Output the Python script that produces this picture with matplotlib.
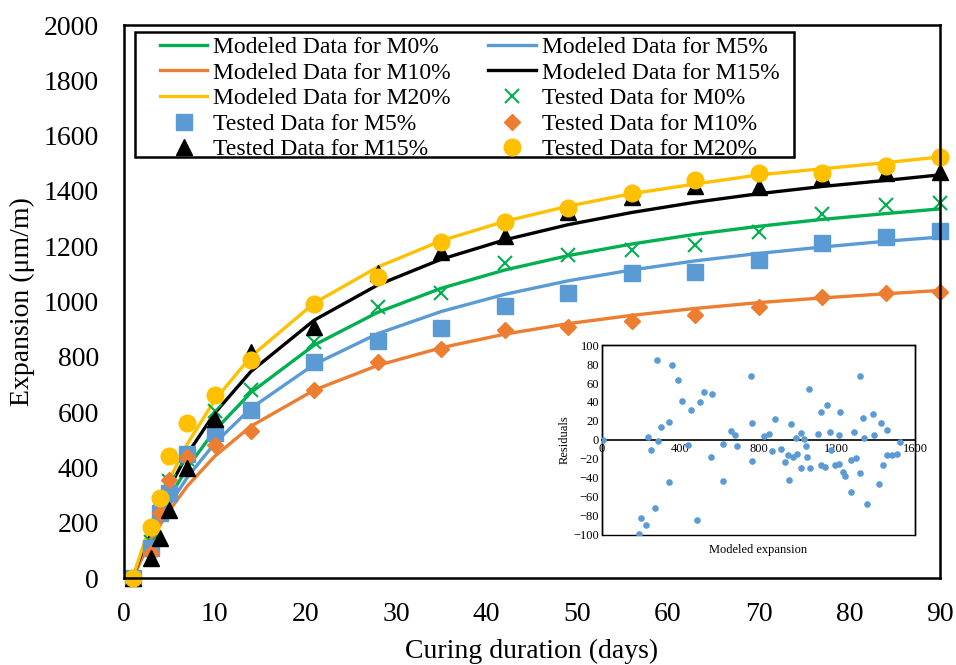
import matplotlib
matplotlib.use("Agg")
import matplotlib.pyplot as plt
from matplotlib.patches import Rectangle

plt.rcParams['font.family'] = ['Liberation Serif', 'DejaVu Serif']

# tested data (days of curing)
test_days = [1, 3, 4, 5, 7, 10, 14, 21, 28, 35, 42, 49, 56, 63, 70, 77, 84, 90]
test_m0 = [0, 130, 240, 350, 430, 605, 680, 853, 980, 1030, 1139, 1168, 1186, 1206, 1250, 1316, 1349, 1356]
test_m5 = [0, 108, 235, 307, 448, 524, 608, 781, 857, 904, 984, 1031, 1103, 1107, 1150, 1212, 1233, 1255]
test_m10 = [0, 90, 235, 354, 438, 481, 530, 680, 781, 828, 897, 908, 930, 951, 980, 1016, 1031, 1036]
test_m15 = [0, 72, 145, 245, 398, 575, 817, 908, 1103, 1180, 1238, 1325, 1378, 1418, 1414, 1452, 1466, 1470]
test_m20 = [0, 184, 289, 441, 561, 662, 788, 991, 1089, 1215, 1288, 1338, 1392, 1439, 1465, 1465, 1490, 1523]

# modeled data
model_days = [1, 1.5, 2, 3, 4, 5, 7, 10, 14, 21, 28, 35, 42, 49, 56, 63, 70, 77, 84, 90]
model_m0 = [0, 43, 84, 160, 228, 291, 400, 533, 671, 843, 961, 1048, 1114, 1166, 1208, 1243, 1272, 1297, 1318, 1335]
model_m5 = [0, 39, 76, 145, 208, 265, 365, 487, 614, 773, 884, 964, 1026, 1075, 1114, 1147, 1174, 1197, 1218, 1233]
model_m10 = [0, 37, 72, 136, 193, 244, 333, 440, 549, 680, 769, 833, 882, 920, 950, 975, 996, 1013, 1028, 1040]
model_m15 = [0, 49, 95, 181, 260, 327, 449, 596, 747, 933, 1060, 1153, 1223, 1278, 1322, 1359, 1390, 1416, 1438, 1458]
model_m20 = [0, 54, 105, 198, 281, 356, 486, 643, 801, 995, 1125, 1220, 1290, 1345, 1390, 1425, 1458, 1480, 1502, 1523]

# residuals inset
res_x = [5, 187, 199, 226, 235, 252, 272, 279, 288, 303, 342, 342, 356, 388, 408, 441, 454, 485, 502, 523,
         555, 563, 618, 621, 662, 679, 689, 761, 768, 768, 829, 853, 871, 882, 916, 935, 950, 955, 967, 975,
         994, 997, 1016, 1018, 1031, 1043, 1048, 1060, 1065, 1103, 1117, 1120, 1140, 1149, 1168, 1171, 1193,
         1214, 1214, 1219, 1232, 1244, 1275, 1275, 1287, 1299, 1319, 1321, 1336, 1341, 1357, 1387, 1389, 1416,
         1426, 1436, 1457, 1457, 1482, 1506, 1525]
res_y = [0, -99, -82, -89, 3, -11, -72, 84, -1, 14, 19, -44, 79, 63, 41, -5, 32, -84, 40, 51,
         -18, 48, -4, -43, 9, 5, -6, 67, 18, -22, 4, 6, -12, 22, -10, -23, -16, -42, 17, -18,
         2, -15, 7, -29, 1, -6, -18, 54, -29, 6, 29, -26, -28, 37, 8, -11, -26,
         5, -25, 29, -34, -38, -55, -21, 8, -19, 67, -35, 23, 2, -67, 27, 5, -46,
         18, -26, 11, -16, -16, -15, -2]

green = '#00B050'
blue = '#5B9BD5'
orange = '#ED7D31'
yellow = '#FFC000'

fig = plt.figure(figsize=(9.56, 6.65), dpi=100)
ax = fig.add_axes([0.1297, 0.1308, 0.8536, 0.8316])

l0, = ax.plot(model_days, model_m0, color=green, lw=2.4, label='Modeled Data for M0%')
l5, = ax.plot(model_days, model_m5, color=blue, lw=2.4, label='Modeled Data for M5%')
l10, = ax.plot(model_days, model_m10, color=orange, lw=2.4, label='Modeled Data for M10%')
l15, = ax.plot(model_days, model_m15, color='black', lw=2.4, label='Modeled Data for M15%')
l20, = ax.plot(model_days, model_m20, color=yellow, lw=2.4, label='Modeled Data for M20%')

t0, = ax.plot(test_days, test_m0, 'x', color=green, ms=10, mew=1.5, clip_on=False, label='Tested Data for M0%')
t5, = ax.plot(test_days, test_m5, 's', color=blue, ms=11, clip_on=False, label='Tested Data for M5%')
t10, = ax.plot(test_days, test_m10, 'D', color=orange, ms=8, clip_on=False, label='Tested Data for M10%')
t15, = ax.plot(test_days, test_m15, '^', color='black', ms=11, clip_on=False, label='Tested Data for M15%')
t20, = ax.plot(test_days, test_m20, 'o', color=yellow, ms=12, clip_on=False, label='Tested Data for M20%')

ax.set_xlim(0, 90)
ax.set_ylim(0, 2000)
ax.set_xticks(range(0, 91, 10))
ax.set_yticks(range(0, 2001, 200))
ax.tick_params(length=0, labelsize=20)
ax.tick_params(axis='x', pad=17)
ax.tick_params(axis='y', pad=18)
for s in ax.spines.values():
    s.set_linewidth(1.8)
ax.set_xlabel('Curing duration (days)', fontsize=20, labelpad=9)
ax.set_ylabel('Expansion (μm/m)', fontsize=20, labelpad=6)

handles = [l0, l10, l20, t5, t15, l5, l15, t0, t10, t20]
leg = ax.legend(handles=handles, ncol=2, loc='upper left', bbox_to_anchor=(0.044, 0.979),
                fontsize=17, frameon=False,
                borderpad=0.0, labelspacing=0.17, handlelength=2.0, handletextpad=0.25,
                columnspacing=1.6, borderaxespad=0)
ax.add_patch(Rectangle((0.0135, 0.761), 0.8075, 0.226, transform=ax.transAxes, fill=False,
                       lw=1.8, edgecolor='black', zorder=5))

# inset with residuals
ax2 = fig.add_axes([0.6297, 0.1955, 0.3274, 0.2857])
ax2.scatter(res_x, res_y, s=14, color=blue, zorder=3)
ax2.set_xlim(0, 1600)
ax2.set_ylim(-100, 100)
ax2.set_xticks(range(0, 1601, 400))
ax2.set_yticks(range(-100, 101, 20))
ax2.spines['bottom'].set_position(('data', 0))
ax2.spines['bottom'].set_linewidth(1.2)
for k in ['top', 'left', 'right']:
    ax2.spines[k].set_linewidth(1.0)
ax2.add_patch(Rectangle((0, 0), 1, 1, transform=ax2.transAxes, fill=False, lw=1.0,
                        edgecolor='black', clip_on=False))
ax2.tick_params(length=0, labelsize=9, pad=2)
ax2.set_ylabel('Residuals', fontsize=9, labelpad=2)
ax2.text(0.5, -0.08, 'Modeled expansion', transform=ax2.transAxes, ha='center', va='center', fontsize=9)

fig.savefig('out.png', dpi=100)
